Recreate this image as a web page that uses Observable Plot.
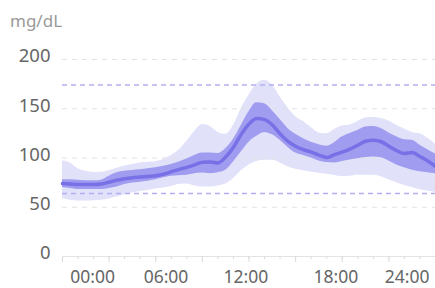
<!DOCTYPE html>
<html>
<head>
<meta charset="utf-8">
<script src="https://cdn.jsdelivr.net/npm/d3@7"></script>
<script src="https://cdn.jsdelivr.net/npm/@observablehq/plot@0.6"></script>
<style>
  html, body { margin: 0; padding: 0; background: #fff; }
  #unit { height: 40px; line-height: 42px; padding-left: 10px; font-family: "Noto Sans", sans-serif; font-size: 17px; color: #9a9a9a; }
  svg { display: block; }
</style>
</head>
<body>
<div id="unit">mg/dL</div>
<div id="chart"></div>
<script>
const hours = [0,0.5,1,1.5,2,2.5,3,3.5,4,4.5,5,5.5,6,6.5,7,7.5,8,8.5,9,9.5,10,10.5,11,11.5,12,12.5,13,13.5,14,14.5,15,15.5,16,16.5,17,17.5,18,18.5,19,19.5,20,20.5,21,21.5,22,22.5,23,23.5,24];
const p95 = [97,95,89,86.5,85.4,85.6,87,89.5,92,93.5,95,95.8,96.3,98.5,102.5,108,117,127,134,132,126,124,133,150,164,175,179,174,162,151,142,137,131,125.5,124.6,129,132.5,133.5,137,140.5,141,140,137.5,133,129.5,126,124.6,120,114];
const p75 = [78,77.8,77.3,77,76.8,77.5,81.5,85,86.5,87.3,88,89,90,91.5,93.5,96,99,102.5,105,105,104.5,109.5,119,133,147,156,155,148,139,130,124,119.5,116,113.5,112,115.5,121.5,125,128,131.5,132,130,125.5,121.5,118.5,118,113,108.5,104];
const p50 = [74,73.5,73,73,73,73.5,75.5,77.5,79,80,80.6,81.3,82,83.5,86,88.5,90.5,93,95.8,96,95,101,111,124,134.5,140,139,133.5,124.5,117,112,108.5,106,103,100.5,103.5,106,109,113,117,118,116.5,112,107.5,104.5,105.5,101.5,97,91.5];
const p25 = [70,69,68,68,68,68,69,70.5,73,74.5,75.5,76.5,78,80,81.5,82,82.5,84,84.7,84,85,87.5,96,106,116,122,126,123.5,118,111,105,102.6,100,97,95.5,95,96.5,98,99.3,100.5,101,100.3,97,93,90,87.5,86,85,84];
const p5  = [59,57,56.3,56.3,56.5,57,58.5,60.5,62.5,64.5,66,67,68.5,69.5,71,73,73.5,71.5,70.5,70.5,71.5,73.5,79,87,93,96.5,97.6,97.6,95,91,88.5,87,85.5,84.5,83.5,82.3,81.3,81.5,82.4,82.4,82.4,81,78,75,72,70,67.8,66.5,65];

const yTicks = [0, 50, 100, 150, 200];
const gridValues = [50, 100, 150, 200];
const targetRange = [64, 174];
const minorTicks = [0,1,2,3,4,5,6,7,8,9,10,11,12,13,14,15,16,17,18,19,20,21,22,23,24];
const majorTicks = [0,3,6,9,12,15,18,21,24];
const xLabels = ["00:00", "06:00", "12:00", "18:00", "24:00"];
const xLabelPositions = [1.94, 6.66, 11.8, 17.59, 22.18];

const data = hours.map((h, i) => ({h, p95: p95[i], p75: p75[i], p50: p50[i], p25: p25[i], p5: p5[i]}));

const chart = Plot.plot({
  width: 435,
  height: 248,
  marginTop: 19,
  marginBottom: 32,
  marginLeft: 62,
  marginRight: 0,
  style: {fontFamily: "'Noto Sans', sans-serif", fontSize: "18px", color: "#666", background: "#fff"},
  x: {domain: [0, 24]},
  y: {domain: [0, 200]},
  marks: [
    Plot.areaY(data, {x: "h", y1: "p5", y2: "p95", fill: "#e2e1fa", curve: "monotone-x"}),
    Plot.ruleY(gridValues, {stroke: "#e2e2e2", strokeWidth: 1.2, strokeDasharray: "5,5"}),
    Plot.areaY(data, {x: "h", y1: "p25", y2: "p75", fill: "#a09cef", curve: "monotone-x"}),
    Plot.ruleY(targetRange, {stroke: "#b2aef4", strokeWidth: 1.5, strokeDasharray: "5,4"}),
    Plot.lineY(data, {x: "h", y: "p50", stroke: "#7770e6", strokeWidth: 3.5, curve: "monotone-x"}),
    Plot.ruleY([0], {stroke: "#e3e3e3", strokeWidth: 1.2}),
    Plot.axisY({ticks: yTicks, tickSize: 0, tickPadding: 12, fontSize: 18.5, dy: -3, label: null, color: "#666"}),
    Plot.axisX({ticks: minorTicks, tickSize: 3, tickFormat: () => "", stroke: "#dcdcdc", label: null}),
    Plot.axisX({ticks: majorTicks, tickSize: 6, tickFormat: () => "", stroke: "#dcdcdc", label: null}),
    Plot.axisX({ticks: xLabelPositions, tickSize: 0, tickPadding: 14, tickFormat: (d, i) => xLabels[i], fontSize: 17.5, color: "#666", label: null})
  ]
});
document.getElementById("chart").appendChild(chart);
</script>
</body>
</html>
